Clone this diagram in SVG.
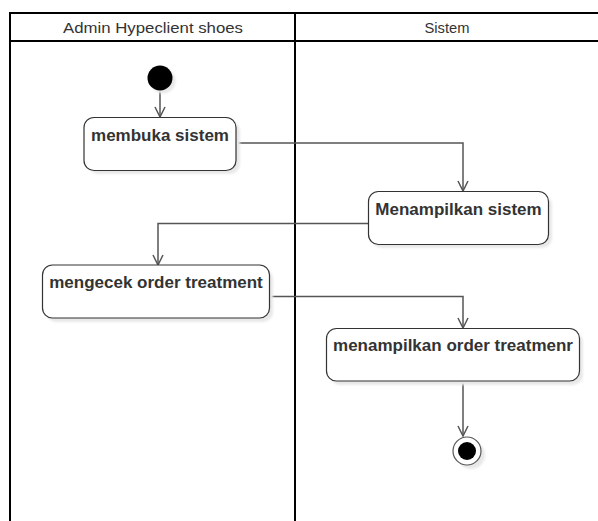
<svg xmlns="http://www.w3.org/2000/svg" width="598" height="521" viewBox="0 0 598 521">
  <style>
    .lane { fill: none; stroke: #000; stroke-width: 2; }
    .title { font-family: "Liberation Sans", Arial, sans-serif; font-size: 15px; fill: #333; text-anchor: middle; }
    .act { fill: #fff; stroke: #333; stroke-width: 1.2; }
    .shadow { fill: #e8e8e8; filter: url(#soft); }
    .label { font-family: "Liberation Sans", Arial, sans-serif; font-size: 17px; font-weight: bold; fill: #333; text-anchor: middle; }
    .flow { fill: none; stroke: #555; stroke-width: 1.5; marker-end: url(#open); }
  </style>
  <defs>
    <filter id="soft" x="-20%" y="-20%" width="140%" height="140%">
      <feGaussianBlur stdDeviation="1.2"/>
    </filter>
    <marker id="open" viewBox="0 0 12 12" refX="11" refY="6" markerWidth="12" markerHeight="12" markerUnits="userSpaceOnUse" orient="auto">
      <path d="M1,1 L11,6 L1,11" fill="none" stroke="#555" stroke-width="1.5"/>
    </marker>
  </defs>

  <!-- swimlane frame -->
  <g id="lanes">
    <path class="lane" d="M600,13 H10 V530"/>
    <line class="lane" x1="10" y1="41" x2="600" y2="41"/>
    <line class="lane" x1="295" y1="13" x2="295" y2="530"/>
    <text class="title" x="153" y="33" textLength="180" lengthAdjust="spacingAndGlyphs">Admin Hypeclient shoes</text>
    <text class="title" x="447" y="33" textLength="45" lengthAdjust="spacingAndGlyphs">Sistem</text>
  </g>

  <!-- flows -->
  <g id="connectors">
    <path class="flow" d="M160,90 V117"/>
    <path class="flow" d="M236,143 H463 V191"/>
    <path class="flow" d="M368,223.5 H158 V265"/>
    <path class="flow" d="M269,296.5 H463 V328"/>
    <path class="flow" d="M463,381 V436"/>
  </g>

  <g id="start">
    <circle class="shadow" cx="163" cy="81" r="12.5"/>
    <circle cx="160" cy="78" r="12.5" fill="#000"/>
  </g>

  <g id="membuka-sistem">
    <rect class="shadow" x="88" y="121" width="152" height="53" rx="10"/>
    <rect class="act" x="84" y="117.5" width="152" height="53" rx="10"/>
    <text class="label" x="160" y="141">membuka sistem</text>
  </g>

  <g id="menampilkan-sistem">
    <rect class="shadow" x="372" y="195" width="180" height="53" rx="10"/>
    <rect class="act" x="368.5" y="191.5" width="180" height="53" rx="10"/>
    <text class="label" x="458.5" y="214.5">Menampilkan sistem</text>
  </g>

  <g id="mengecek-order">
    <rect class="shadow" x="46" y="269" width="227" height="53" rx="10"/>
    <rect class="act" x="42.5" y="265" width="227" height="53" rx="10"/>
    <text class="label" x="156" y="288">mengecek order treatment</text>
  </g>

  <g id="menampilkan-order">
    <rect class="shadow" x="330" y="332" width="253" height="53" rx="10"/>
    <rect class="act" x="326.5" y="328.5" width="253" height="52.5" rx="10"/>
    <text class="label" x="453" y="351">menampilkan order treatmenr</text>
  </g>

  <g id="end">
    <circle class="shadow" cx="471" cy="455" r="14"/>
    <circle cx="467" cy="451" r="14" fill="#fff" stroke="#555" stroke-width="1.2"/>
    <circle cx="467" cy="451" r="9" fill="#000"/>
  </g>
</svg>
